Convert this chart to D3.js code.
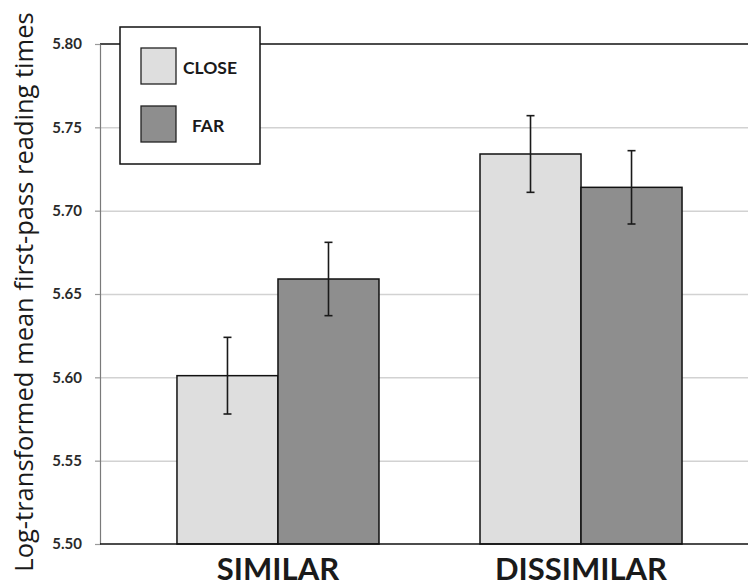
<!DOCTYPE html>
<meta charset="utf-8">
<head>
  <title>First-pass reading times</title>
</head>

<style>
body {
  margin: 0;
  background: #fff;
}
text {
  font-family: Lato, "Open Sans", sans-serif;
  fill: #1a1a1a;
}
.grid line {
  stroke: #d2d2d2;
  stroke-width: 1.5;
}
.grid path {
  display: none;
}
.yaxis path {
  stroke: #7a7a7a;
  stroke-width: 1.2;
}
.yaxis line {
  stroke: #9a9a9a;
  stroke-width: 1.2;
}
.yaxis text {
  font-size: 15px;
  font-weight: bold;
  fill: #2a2a2a;
}
.bar {
  stroke: #111;
  stroke-width: 1.5;
}
.err {
  stroke: #1a1a1a;
  stroke-width: 1.6;
}
.xlabel {
  font-size: 31px;
  font-weight: bold;
  text-anchor: middle;
}
.legend text {
  font-size: 17.5px;
  font-weight: bold;
}
.ytitle {
  font-family: "Open Sans", sans-serif;
  font-size: 25.5px;
}
</style>

<body>
  <svg width="748" height="586"></svg>

  <script src="https://cdnjs.cloudflare.com/ajax/libs/d3/7.8.5/d3.min.js"></script>
  <script>
var categories = ['SIMILAR', 'DISSIMILAR']
var series = ['CLOSE', 'FAR']
var closeMeans = [5.601, 5.734]
var farMeans = [5.659, 5.714]
var closeErr = [0.023, 0.023]
var farErr = [0.022, 0.022]
var yTicks = [5.50, 5.55, 5.60, 5.65, 5.70, 5.75, 5.80]
var colors = {CLOSE: '#dedede', FAR: '#8e8e8e'}

var plotLeft = 100, plotTop = 44, plotBottom = 544, plotRight = 759

var svg = d3.select('svg')

var y = d3.scaleLinear().domain([5.50, 5.80]).range([plotBottom, plotTop])

var x = d3.scaleBand()
  .domain(categories)
  .range([plotLeft, plotRight])
  .paddingInner(1 / 3)
  .paddingOuter(0.254)

var xs = d3.scaleBand().domain(series).range([0, x.bandwidth()])

var rows = []
categories.forEach(function(c, i) {
  rows.push({cat: c, s: 'CLOSE', v: closeMeans[i], e: closeErr[i]})
  rows.push({cat: c, s: 'FAR', v: farMeans[i], e: farErr[i]})
})

// gridlines
svg.append('g')
  .attr('class', 'grid')
  .attr('transform', 'translate(' + plotLeft + ',0)')
  .call(d3.axisLeft(y).tickValues(yTicks.slice(1, -1)).tickSize(-(plotRight - plotLeft)).tickFormat(''))

// top line at 5.80
svg.append('line')
  .attr('x1', plotLeft).attr('x2', plotRight)
  .attr('y1', y(5.80)).attr('y2', y(5.80))
  .attr('stroke', '#111').attr('stroke-width', 1.5)

// y axis
svg.append('g')
  .attr('class', 'yaxis')
  .attr('transform', 'translate(' + plotLeft + ',0)')
  .call(d3.axisLeft(y).tickValues(yTicks).tickSize(5).tickSizeOuter(0).tickPadding(13).tickFormat(d3.format('.2f')))

// bars
svg.append('g').selectAll('rect')
  .data(rows)
  .enter()
  .append('rect')
  .attr('class', 'bar')
  .attr('x', function(d) { return x(d.cat) + xs(d.s) })
  .attr('y', function(d) { return y(d.v) })
  .attr('width', xs.bandwidth())
  .attr('height', function(d) { return y(5.50) - y(d.v) })
  .attr('fill', function(d) { return colors[d.s] })

// error bars
var eb = svg.append('g').selectAll('g')
  .data(rows)
  .enter()
  .append('g')
  .attr('class', 'err')

function cx(d) { return x(d.cat) + xs(d.s) + xs.bandwidth() / 2 }

eb.append('line')
  .attr('x1', cx).attr('x2', cx)
  .attr('y1', function(d) { return y(d.v + d.e) })
  .attr('y2', function(d) { return y(d.v - d.e) })
eb.append('line')
  .attr('x1', function(d) { return cx(d) - 4 }).attr('x2', function(d) { return cx(d) + 4 })
  .attr('y1', function(d) { return y(d.v + d.e) })
  .attr('y2', function(d) { return y(d.v + d.e) })
eb.append('line')
  .attr('x1', function(d) { return cx(d) - 4 }).attr('x2', function(d) { return cx(d) + 4 })
  .attr('y1', function(d) { return y(d.v - d.e) })
  .attr('y2', function(d) { return y(d.v - d.e) })

// x axis line
svg.append('line')
  .attr('x1', plotLeft).attr('x2', plotRight)
  .attr('y1', y(5.50)).attr('y2', y(5.50))
  .attr('stroke', '#111').attr('stroke-width', 1.5)

// category labels
svg.append('g').selectAll('text')
  .data(categories)
  .enter()
  .append('text')
  .attr('class', 'xlabel')
  .attr('x', function(d) { return x(d) + x.bandwidth() / 2 })
  .attr('y', 580)
  .text(function(d) { return d })

// y title
svg.append('text')
  .attr('class', 'ytitle')
  .attr('transform', 'translate(33,292) rotate(-90)')
  .attr('text-anchor', 'middle')
  .text('Log-transformed mean first-pass reading times')

// legend
var lg = svg.append('g').attr('class', 'legend')
lg.append('rect')
  .attr('x', 120).attr('y', 27)
  .attr('width', 140).attr('height', 137)
  .attr('fill', '#fff').attr('stroke', '#111').attr('stroke-width', 1.5)

var li = lg.selectAll('g.item')
  .data(series)
  .enter()
  .append('g')
  .attr('class', 'item')
  .attr('transform', function(d, i) { return 'translate(141,' + (48 + i * 58) + ')' })

li.append('rect')
  .attr('width', 35).attr('height', 36)
  .attr('fill', function(d) { return colors[d] })
  .attr('stroke', '#222').attr('stroke-width', 1.3)

li.append('text')
  .attr('x', function(d, i) { return i === 0 ? 42 : 51 })
  .attr('y', 26)
  .text(function(d) { return d })
  </script>
</body>
</html>
